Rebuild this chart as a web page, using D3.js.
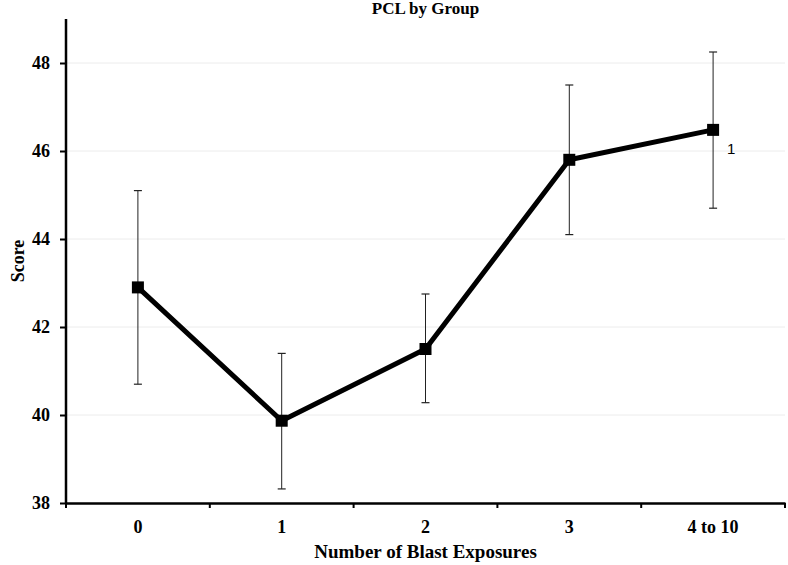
<!DOCTYPE html>
<html><head><meta charset="utf-8">
<script src="https://cdn.jsdelivr.net/npm/d3@7"></script>
<style>body{margin:0;background:#fff}</style>
</head><body>
<svg id="c" width="788" height="565"></svg>
<script>
const categories = ["0","1","2","3","4 to 10"];
const means = [42.9, 39.87, 41.5, 45.8, 46.48];
const upper = [45.1, 41.4, 42.75, 47.5, 48.25];
const lower = [40.7, 38.32, 40.28, 44.1, 44.7];
const yTicks = [38,40,42,44,46,48];
const annotations = [{i:4, text:"1"}];

const svg = d3.select("#c");
const pL = 66, pR = 785, pT = 19, pB = 503;
const x = d3.scaleBand().domain(categories).range([pL, pR]);
const y = d3.scaleLinear().domain([38, 49]).range([pB, pT]);
const cx = d => x(d) + x.bandwidth()/2;
const font = "'Liberation Serif','Times New Roman',serif";

// gridlines
svg.append("g").selectAll("line").data(yTicks.slice(1)).join("line")
  .attr("x1", pL).attr("x2", pR).attr("y1", d=>y(d)).attr("y2", d=>y(d))
  .attr("stroke", "#ececec").attr("stroke-width", 1);

// axes
const ya = svg.append("g").attr("transform", `translate(${pL},0)`)
  .call(d3.axisLeft(y).tickValues(yTicks).tickSize(6).tickPadding(10));
ya.select(".domain").attr("d", `M0,${pT}V${pB}`);
const xa = svg.append("g").attr("transform", `translate(0,${pB})`)
  .call(d3.axisBottom(x).tickSize(0).tickPadding(17));
const bounds = categories.map(c => x(c)).concat([pR]);
xa.selectAll(".bt").data(bounds).join("line").attr("class","bt")
  .attr("x1", d=>d).attr("x2", d=>d).attr("y1", 0).attr("y2", 5)
  .attr("stroke", "#000").attr("stroke-width", 2);
[ya, xa].forEach(a => {
  a.select(".domain").attr("stroke", "#000").attr("stroke-width", 2.5);
  a.selectAll(".tick line").attr("stroke", "#000").attr("stroke-width", 2);
  a.selectAll("text").attr("font-family", font).attr("font-weight", "bold")
    .attr("font-size", 18).attr("fill", "#000");
});

// error bars
const eb = svg.append("g").selectAll("g").data(categories).join("g");
eb.append("line").attr("x1", d=>cx(d)).attr("x2", d=>cx(d))
  .attr("y1", (d,i)=>y(upper[i])).attr("y2", (d,i)=>y(lower[i]))
  .attr("stroke", "#222").attr("stroke-width", 1);
eb.append("line").attr("x1", d=>cx(d)-4).attr("x2", d=>cx(d)+4)
  .attr("y1", (d,i)=>y(upper[i])).attr("y2", (d,i)=>y(upper[i]))
  .attr("stroke", "#222").attr("stroke-width", 1.2);
eb.append("line").attr("x1", d=>cx(d)-4).attr("x2", d=>cx(d)+4)
  .attr("y1", (d,i)=>y(lower[i])).attr("y2", (d,i)=>y(lower[i]))
  .attr("stroke", "#222").attr("stroke-width", 1.2);

// line
const line = d3.line().x(d=>cx(d)).y((d,i)=>y(means[i]));
svg.append("path").datum(categories).attr("d", line)
  .attr("fill", "none").attr("stroke", "#000").attr("stroke-width", 5)
  .attr("stroke-linejoin", "round");

// markers
svg.append("g").selectAll("rect").data(categories).join("rect")
  .attr("x", d=>cx(d)-6).attr("y", (d,i)=>y(means[i])-6)
  .attr("width", 12).attr("height", 12).attr("fill", "#000");

// annotations
svg.append("g").selectAll("text").data(annotations).join("text")
  .attr("x", d=>cx(categories[d.i])+14).attr("y", d=>y(means[d.i])+24)
  .attr("font-family", "'Liberation Sans',Arial,sans-serif").attr("font-size", 15)
  .attr("fill", "#000").text(d=>d.text);

// titles
svg.append("text").attr("x", (pL+pR)/2).attr("y", 14).attr("text-anchor","middle")
  .attr("font-family", font).attr("font-weight","bold").attr("font-size", 17).text("PCL by Group");
svg.append("text").attr("x", (pL+pR)/2).attr("y", 558).attr("text-anchor","middle")
  .attr("font-family", font).attr("font-weight","bold").attr("font-size", 19).text("Number of Blast Exposures");
svg.append("text").attr("transform", `translate(24,261) rotate(-90)`).attr("text-anchor","middle")
  .attr("font-family", font).attr("font-weight","bold").attr("font-size", 18).text("Score");
</script>
</body></html>
